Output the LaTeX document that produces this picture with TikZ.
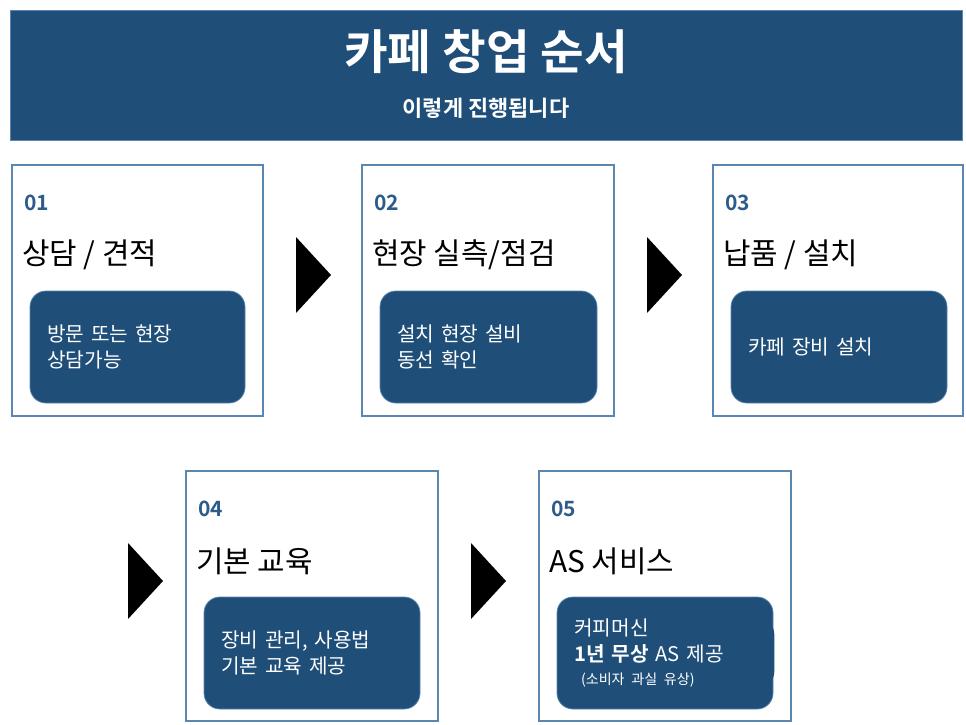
\documentclass[tikz,border=0pt]{standalone}
\usepackage{fontspec}
\setmainfont{Noto Sans CJK KR}[BoldFont={Noto Sans CJK KR Bold}]
\usetikzlibrary{positioning}
\definecolor{navy}{HTML}{1F4E79}
\definecolor{numblue}{HTML}{2E5C8A}
\definecolor{edge}{HTML}{5B86B0}

\tikzset{
  stepframe/.style={draw=edge, line width=0.8pt, fill=white},
  stepnum/.style={anchor=west, text=numblue, font=\fontsize{12}{14}\selectfont\bfseries},
  steptitle/.style={anchor=west, font=\fontsize{17}{20}\selectfont},
  stepnote/.style={draw=edge, fill=navy, rounded corners=9pt, text=white, align=left,
    font=\fontsize{11.5}{15}\selectfont, text width=3.4cm, inner sep=0pt},
}

\begin{document}
\begin{tikzpicture}[x=0.02cm, y=-0.02cm]

    \useasboundingbox (0,0) rectangle (966,724);

    % header
    \draw[fill=navy, draw=edge] (10,10) rectangle (962,140);
    \node[text=white, font=\fontsize{27}{30}\selectfont\bfseries] (title) at (486,52) {카페 창업 순서};
    \node[text=white, font=\fontsize{12.5}{14}\selectfont\bfseries] (subtitle) at (486,108) {이렇게 진행됩니다};

    % these are the step boxes
    \draw[stepframe] (12,165) rectangle (263,416);
    \draw[stepframe] (362,165) rectangle (614,416);
    \draw[stepframe] (713,165) rectangle (963,416);
    \draw[stepframe] (186,471) rectangle (438,721);
    \draw[stepframe] (539,471) rectangle (791,721);

    \node[stepnum] (n1) at (18,203) {01};
    \node[stepnum] (n2) at (368,203) {02};
    \node[stepnum] (n3) at (719,203) {03};
    \node[stepnum] (n4) at (192,509) {04};
    \node[stepnum] (n5) at (545,509) {05};

    \node[steptitle] (t1) at (16,255) {상담 / 견적};
    \node[steptitle] (t2) at (366,255) {현장 실측/점검};
    \node[steptitle] (t3) at (717,255) {납품 / 설치};
    \node[steptitle] (t4) at (190,561) {기본 교육};
    \node[steptitle] (t5) at (543,561) {AS 서비스};

    \draw[stepnote] (30,291) rectangle (245,403);
    \draw[stepnote] (380,291) rectangle (597,403);
    \draw[stepnote] (731,291) rectangle (947,403);
    \draw[stepnote] (204,597) rectangle (420,709);
    \draw[stepnote] (557,597) rectangle (773,709);

    \node[stepnote, draw=none, anchor=west] (d1) at (47,347) {방문 또는 현장\\상담가능};
    \node[stepnote, draw=none, anchor=west] (d2) at (397,347) {설치 현장 설비\\동선 확인};
    \node[stepnote, draw=none, anchor=west] (d3) at (748,347) {카페 장비 설치};
    \node[stepnote, draw=none, anchor=west] (d4) at (221,653) {장비 관리, 사용법\\기본 교육 제공};
    \node[stepnote, draw=none, anchor=west, text width=4cm] (d5) at (574,653)
      {커피머신\\\textbf{1년 무상} AS 제공\\[-2pt]{\fontsize{8}{10}\selectfont\ (소비자 과실 유상)}};

    % arrows between steps
    \fill (296,237) -- (331,275) -- (296,313) -- cycle;
    \fill (647,237) -- (682,275) -- (647,313) -- cycle;
    \fill (128,543) -- (163,581) -- (128,619) -- cycle;
    \fill (471,543) -- (506,581) -- (471,619) -- cycle;

\end{tikzpicture}
\end{document}
